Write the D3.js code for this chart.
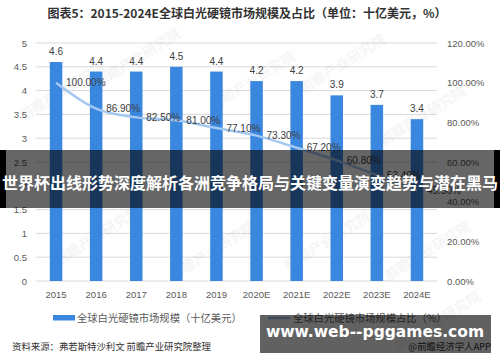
<html>
<head>
<meta charset="utf-8">
<script src="https://cdnjs.cloudflare.com/ajax/libs/d3/7.8.5/d3.min.js"></script>
<style>
    body { margin: 0; background: #fff; }
    svg { display: block; font-family: "Liberation Sans", "Noto Sans CJK SC", sans-serif; }
    .tick text { fill: #595959; }
</style>
</head>
<body>
<svg id="chart" width="500" height="362"></svg>
<script>
    // data
    var years = ["2015", "2016", "2017", "2018", "2019", "2020E", "2021E", "2022E", "2023E", "2024E"];
    var marketSize = [4.6, 4.4, 4.4, 4.5, 4.4, 4.2, 4.2, 3.9, 3.7, 3.4];
    var marketShare = [100.0, 86.9, 82.5, 81.0, 77.1, 73.3, 67.2, 60.8, 53.4, 45.5];
    var leftTicks = [0, 0.5, 1, 1.5, 2, 2.5, 3, 3.5, 4, 4.5, 5];
    var rightTicks = [0, 20, 40, 60, 80, 100, 120];

    var svg = d3.select("#chart");
    var W = 500, H = 362;
    var plotL = 36, plotR = 437, plotT = 43, plotB = 281;

    svg.append("rect").attr("width", W).attr("height", H).attr("fill", "#fff");

    // title
    svg.append("text")
        .attr("x", 247).attr("y", 18)
        .attr("text-anchor", "middle")
        .style("font-family", "'Noto Sans CJK SC', sans-serif")
        .style("font-size", "12px").style("font-weight", "bold")
        .attr("fill", "#333")
        .text("图表5：2015-2024E全球白光硬镜市场规模及占比（单位：十亿美元，%）");

    var x = d3.scaleBand().domain(years).range([plotL, plotR])
        .paddingInner(0.688).paddingOuter(0.344);
    var yL = d3.scaleLinear().domain([0, 5]).range([plotB, plotT]);
    var yR = d3.scaleLinear().domain([0, 120]).range([plotB, plotT]);

    // gridlines
    svg.append("g").selectAll("line").data(leftTicks).enter().append("line")
        .attr("x1", plotL).attr("x2", plotR)
        .attr("y1", function(d) { return yL(d); })
        .attr("y2", function(d) { return yL(d); })
        .attr("stroke", "#d9d9d9").attr("stroke-width", 1);

    // faint watermarks
    var marks = [[65, 95], [140, 62], [255, 85], [345, 68], [425, 120], [100, 240], [215, 255], [330, 245], [430, 255], [440, 325]];
    svg.append("g").selectAll("text").data(marks).enter().append("text")
        .attr("transform", function(d) { return "translate(" + d[0] + "," + d[1] + ") rotate(-32)"; })
        .attr("text-anchor", "middle")
        .style("font-family", "'Noto Sans CJK SC', sans-serif")
        .style("font-size", "14px").style("font-weight", "bold")
        .attr("fill", "#000").attr("opacity", 0.035)
        .text("前瞻产业研究院");

    // axes
    var axL = svg.append("g").attr("transform", "translate(" + plotL + ",0)")
        .call(d3.axisLeft(yL).tickValues(leftTicks).tickSize(0).tickPadding(9)
            .tickFormat(function(d) { return String(d); }));
    var axR = svg.append("g").attr("transform", "translate(" + plotR + ",0)")
        .call(d3.axisRight(yR).tickValues(rightTicks).tickSize(0).tickPadding(10)
            .tickFormat(function(d) { return d.toFixed(2) + "%"; }));
    var axX = svg.append("g").attr("transform", "translate(0," + plotB + ")")
        .call(d3.axisBottom(x).tickSize(0).tickPadding(10));
    [axL, axR, axX].forEach(function(a) {
        a.select(".domain").remove();
        a.selectAll("text").style("font-size", "9.5px");
    });

    // bars
    svg.append("g").selectAll("rect").data(marketSize).enter().append("rect")
        .attr("x", function(d, i) { return x(years[i]); })
        .attr("y", function(d) { return yL(d); })
        .attr("width", x.bandwidth())
        .attr("height", function(d) { return plotB - yL(d); })
        .attr("fill", "#3a87e0");

    svg.append("g").selectAll("text").data(marketSize).enter().append("text")
        .attr("x", function(d, i) { return x(years[i]) + x.bandwidth() / 2; })
        .attr("y", function(d) { return yL(d) - 7; })
        .attr("text-anchor", "middle")
        .style("font-size", "10px").attr("fill", "#404040")
        .text(function(d) { return d.toFixed(1); });

    // share line
    var line = d3.line()
        .x(function(d, i) { return x(years[i]) + x.bandwidth() / 2; })
        .y(function(d) { return yR(d); })
        .curve(d3.curveMonotoneX);
    svg.append("path").datum(marketShare)
        .attr("d", line).attr("fill", "none")
        .attr("stroke", "#a3c8f2").attr("stroke-width", 2.5);

    svg.append("g").selectAll("text").data(marketShare).enter().append("text")
        .attr("x", function(d, i) { return x(years[i]) + x.bandwidth() / 2 + 10; })
        .attr("y", function(d) { return yR(d); })
        .attr("dy", "0.35em")
        .style("font-size", "10px").attr("fill", "#404040")
        .text(function(d) { return d.toFixed(2) + "%"; });

    // legend
    var lg = svg.append("g").style("font-family", "'Noto Sans CJK SC', sans-serif")
        .style("font-size", "10.3px");
    lg.append("rect").attr("x", 53).attr("y", 315).attr("width", 22).attr("height", 5.5).attr("fill", "#3a87e0");
    lg.append("text").attr("x", 77).attr("y", 318).attr("dy", "0.35em").attr("fill", "#595959")
        .text("全球白光硬镜市场规模（十亿美元）");
    lg.append("line").attr("x1", 268).attr("x2", 290).attr("y1", 318).attr("y2", 318)
        .attr("stroke", "#a3c8f2").attr("stroke-width", 2.5);
    lg.append("text").attr("x", 293).attr("y", 318).attr("dy", "0.35em").attr("fill", "#595959")
        .text("全球白光硬镜市场规模占比（%）");

    // source
    svg.append("text").attr("x", 12).attr("y", 347).attr("dy", "0.35em")
        .style("font-family", "'Noto Sans CJK SC', sans-serif")
        .style("font-size", "9.4px").attr("fill", "#333")
        .text("资料来源：弗若斯特沙利文 前瞻产业研究院整理");
    svg.append("text").attr("x", 491).attr("y", 347).attr("dy", "0.35em")
        .attr("text-anchor", "end")
        .style("font-family", "'Noto Sans CJK SC', sans-serif")
        .style("font-size", "9.4px").attr("fill", "#333")
        .text("@前瞻经济学人APP");

    // overlay banner across the middle
    svg.append("rect").attr("x", 0).attr("y", 150).attr("width", W).attr("height", 58)
        .attr("fill", "#000").attr("opacity", 0.6);
    svg.append("rect").attr("x", 0).attr("y", 150).attr("width", 6).attr("height", 58).attr("fill", "#000");
    svg.append("rect").attr("x", 494).attr("y", 150).attr("width", 6).attr("height", 58).attr("fill", "#000");
    svg.append("text").attr("x", W / 2).attr("y", 183).attr("dy", "0.35em")
        .attr("text-anchor", "middle")
        .style("font-family", "'Noto Sans CJK SC', sans-serif")
        .style("font-size", "16px").style("font-weight", "bold")
        .attr("fill", "#fff")
        .text("世界杯出线形势深度解析各洲竞争格局与关键变量演变趋势与潜在黑马");

    // site box bottom right
    svg.append("rect").attr("x", 260).attr("y", 315).attr("width", 231).attr("height", 38)
        .attr("fill", "#000").attr("opacity", 0.62);
    svg.append("text").attr("x", 375).attr("y", 332).attr("dy", "0.35em")
        .attr("text-anchor", "middle")
        .style("font-family", "'DejaVu Sans', sans-serif")
        .style("font-size", "15.5px").style("font-weight", "bold")
        .attr("fill", "#fff")
        .text("www.web--pggames.com");
</script>
</body>
</html>
